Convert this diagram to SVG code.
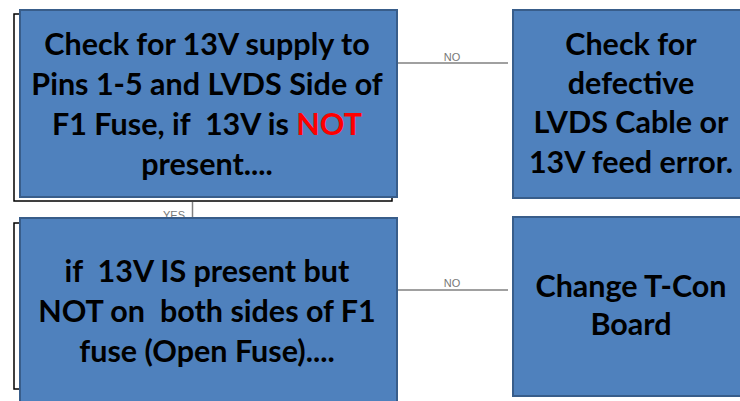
<svg xmlns="http://www.w3.org/2000/svg" width="740" height="401" viewBox="0 0 740 401">
<style>
.box{fill:#4F81BD;stroke:#385D8A;stroke-width:2}
.frame{fill:none;stroke:#000;stroke-width:1.5}
.t{font-family:Lato,"Open Sans",sans-serif;font-weight:bold;font-size:30.5px;fill:#000;text-anchor:middle;white-space:pre}
.red{fill:#FF0000}
.conn{stroke:#808080;stroke-width:1.5;fill:none}
.lbl{font-family:"Liberation Sans",Arial,sans-serif;font-size:11px;fill:#777;text-anchor:middle}
</style>
<rect width="740" height="401" fill="#fff"/>
<g id="connectors">
<line class="conn" x1="397" y1="63" x2="508" y2="63"/>
<text class="lbl" x="452" y="61">NO</text>
<line class="conn" x1="397" y1="290" x2="508" y2="290"/>
<text class="lbl" x="452" y="287">NO</text>
<line class="conn" x1="192.5" y1="202" x2="192.5" y2="218"/>
<text class="lbl" x="174" y="219">YES</text>
</g>
<g id="node1">
<rect class="frame" x="14" y="14" width="378" height="187"/>
<rect class="box" x="20" y="10" width="377" height="187"/>
<text class="t" x="207" y="55">Check for 13V supply to</text>
<text class="t" x="207" y="95">Pins 1-5 and LVDS Side of</text>
<text class="t" x="207" y="135" xml:space="preserve">F1 Fuse, if  13V is <tspan class="red">NOT</tspan></text>
<text class="t" x="207" y="175">present....</text>
</g>
<g id="node2">
<rect class="box" x="513" y="10" width="240" height="188"/>
<text class="t" x="631" y="55">Check for</text>
<text class="t" x="631" y="94">defective</text>
<text class="t" x="631" y="133">LVDS Cable or</text>
<text class="t" x="631" y="173">13V feed error.</text>
</g>
<g id="node3">
<rect class="frame" x="14" y="223" width="378" height="166"/>
<rect class="box" x="20" y="218" width="377" height="200"/>
<text class="t" x="207" y="282" xml:space="preserve">if  13V IS present but</text>
<text class="t" x="207" y="322" xml:space="preserve">NOT on  both sides of F1</text>
<text class="t" x="207" y="362">fuse (Open Fuse)....</text>
</g>
<g id="node4">
<rect class="box" x="513" y="217" width="240" height="179"/>
<text class="t" x="631" y="297">Change T-Con</text>
<text class="t" x="631" y="335">Board</text>
</g>
</svg>
